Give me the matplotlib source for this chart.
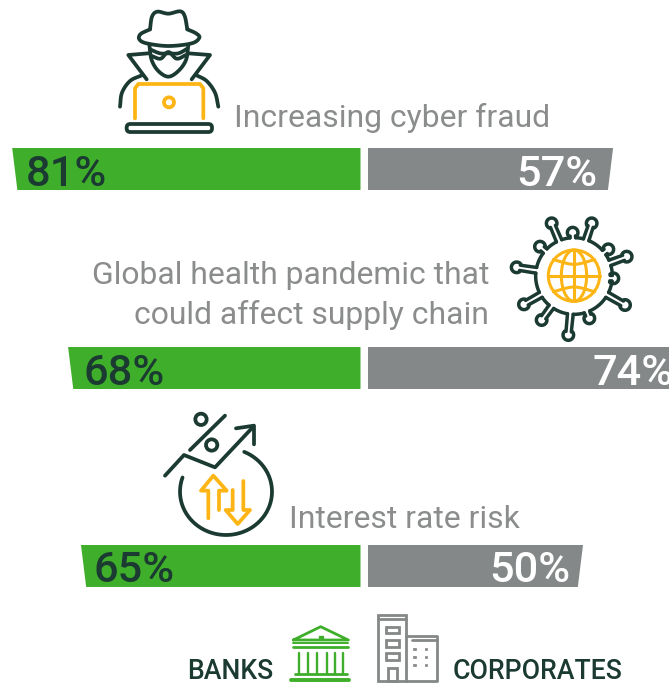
import matplotlib
matplotlib.use('Agg')
import matplotlib.pyplot as plt
from matplotlib.patches import Polygon, Circle, Rectangle, FancyBboxPatch
import numpy as np

risks = ['Increasing cyber fraud',
         'Global health pandemic that\ncould affect supply chain',
         'Interest rate risk']
banks = [81, 68, 65]
corporates = [57, 74, 50]
legend_labels = ['BANKS', 'CORPORATES']

GREEN = '#3fae2a'
GREY = '#858888'
DARK = '#1b3a32'
YELLOW = '#fdb515'
LABEL = '#8b8d8d'

plt.rcParams['font.family'] = ['Roboto', 'DejaVu Sans']

W, H = 669, 685
PX_PER_PCT = 4.3
SLANT = 1.2
bar_tops = [148, 347, 545]
bar_h = 42
# the value labels are not placed quite evenly in the original
bank_nudge = [0, 2, -0.5]
corp_nudge = [0, 3.5, 3.5]

fig = plt.figure(figsize=(W / 100, H / 100), dpi=100)
ax = fig.add_axes([0, 0, 1, 1])
ax.set_xlim(0, W)
ax.set_ylim(H, 0)
ax.axis('off')

# the two bar halves meet at a gap, each has its own percent scale
ax_b = fig.add_axes([0, 0, 360.5 / W, 1])
ax_b.set_xlim(360.5 / PX_PER_PCT, 0)
ax_c = fig.add_axes([368 / W, 0, (W - 368) / W, 1])
ax_c.set_xlim(0, (W - 368) / PX_PER_PCT)
for a in (ax_b, ax_c):
    a.set_ylim(H, 0)
    a.axis('off')
    a.patch.set_alpha(0)


def slanted_bar(a, val, top, color):
    pts = [(0, top), (val, top), (val - SLANT, top + bar_h), (0, top + bar_h)]
    a.add_patch(Polygon(pts, closed=True, fc=color, ec='none'))


for i in range(3):
    slanted_bar(ax_b, banks[i], bar_tops[i], GREEN)
    slanted_bar(ax_c, corporates[i], bar_tops[i], GREY)
    # value labels sit a fixed distance inside the slanted end
    ax_b.text(banks[i] - (13.5 + bank_nudge[i]) / PX_PER_PCT, bar_tops[i] + 37.5, '%d%%' % banks[i],
              fontsize=31.2, color=DARK, weight='medium', ha='left', va='baseline')
    ax_c.text(corporates[i] - (16 - corp_nudge[i]) / PX_PER_PCT, bar_tops[i] + 37.5, '%d%%' % corporates[i],
              fontsize=31.2, color='white', weight='medium', ha='right', va='baseline', clip_on=True)

ax.text(234, 127.3, risks[0], fontsize=22.96, color=LABEL, ha='left', va='baseline')
l1, l2 = risks[1].split('\n')
ax.text(489, 284.3, l1, fontsize=22.96, color=LABEL, ha='right', va='baseline')
ax.text(489, 324.3, l2, fontsize=22.96, color=LABEL, ha='right', va='baseline')
ax.text(289, 528.3, risks[2], fontsize=22.96, color=LABEL, ha='left', va='baseline')

ax.text(187, 679.3, legend_labels[0], fontsize=19.2, color=DARK, weight='medium', ha='left', va='baseline')
ax.text(452.5, 679.3, legend_labels[1], fontsize=19.2, color=DARK, weight='medium', ha='left', va='baseline')


def smooth(pts, n=12):
    # catmull-rom through the points, just to round the icon outlines
    p = np.array(pts, dtype=float)
    p = np.vstack([2 * p[0] - p[1], p, 2 * p[-1] - p[-2]])
    out = []
    for i in range(1, len(p) - 2):
        for t in np.linspace(0, 1, n, endpoint=False):
            out.append(0.5 * (2 * p[i] + (p[i + 1] - p[i - 1]) * t
                              + (2 * p[i - 1] - 5 * p[i] + 4 * p[i + 1] - p[i + 2]) * t ** 2
                              + (3 * p[i] - p[i - 1] - 3 * p[i + 1] + p[i + 2]) * t ** 3))
    out.append(p[-2])
    return np.array(out)


class Icon:
    def __init__(self, ox, oy):
        self.ox, self.oy = ox, oy

    def xy(self, pts):
        p = np.asarray(pts, dtype=float)
        return self.ox + p[:, 0] / 3, self.oy + p[:, 1] / 3

    def line(self, pts, color=DARK, lw=2.7, curve=False):
        if curve:
            pts = smooth(pts)
        x, y = self.xy(pts)
        ax.plot(x, y, color=color, lw=lw, solid_capstyle='round', solid_joinstyle='round')

    def circle(self, cx, cy, r, color=DARK, lw=2.7):
        ax.add_patch(Circle((self.ox + cx / 3, self.oy + cy / 3), r / 3, fc='none', ec=color, lw=lw))

    def rect(self, x0, y0, x1, y1, color=DARK, lw=2, fill=False):
        ax.add_patch(Rectangle((self.ox + x0 / 3, self.oy + y0 / 3), (x1 - x0) / 3, (y1 - y0) / 3,
                               fc=color if fill else 'none', ec=color, lw=lw))


# spy
spy = Icon(100, 0)
spy.line([(150, 88), (156, 50), (172, 35), (205, 41), (240, 34), (254, 48), (262, 88)], curve=True)
spy.line([(150, 88), (122, 102), (118, 118), (140, 130), (205, 138), (275, 130), (298, 113), (288, 100), (262, 88)], curve=True)
spy.line([(148, 135), (155, 180), (175, 213), (205, 230), (235, 213), (258, 180), (265, 135)], curve=True)
spy.line([(150, 148), (180, 160), (205, 160), (235, 160), (262, 146)], curve=True)
spy.line([(155, 168), (182, 176), (205, 156), (230, 176), (258, 165)], curve=True)
spy.line([(145, 160), (85, 165), (140, 238)])
spy.line([(265, 160), (330, 165), (275, 238)])
spy.line([(60, 320), (66, 278), (90, 243), (125, 226)], curve=True)
spy.line([(355, 320), (345, 278), (320, 243), (290, 226)], curve=True)
spy.line([(105, 355), (105, 265), (115, 252), (300, 252), (310, 265), (310, 355)], color=YELLOW)
spy.circle(207, 307, 15, color=YELLOW)
ax.add_patch(FancyBboxPatch((100 + 80 / 3, 372 / 3), 256 / 3, 24 / 3, boxstyle='round,pad=0,rounding_size=3.5',
                            fc='none', ec=DARK, lw=2.7))

# virus
vir = Icon(500, 210)
c = np.array([222.0, 198.0])
knobs = [(155, 40), (275, 40), (218, 68), (120, 110), (325, 118), (50, 172), (380, 140),
         (340, 205), (72, 283), (375, 285), (125, 330), (205, 375), (268, 325)]
R = 115
angs = sorted(np.arctan2(k[1] - c[1], k[0] - c[0]) for k in knobs)
half = 0.075
for i, a0 in enumerate(angs):
    a1 = angs[(i + 1) % len(angs)]
    if a1 < a0:
        a1 += 2 * np.pi
    t = np.linspace(a0 + half, a1 - half, 12)
    vir.line(np.c_[c[0] + R * np.cos(t), c[1] + R * np.sin(t)], lw=2.5)
for k in knobs:
    k = np.array(k, dtype=float)
    a = np.arctan2(k[1] - c[1], k[0] - c[0])
    u = np.array([np.cos(a), np.sin(a)])
    n = np.array([-u[1], u[0]])
    for s in (-1, 1):
        base = c + R * np.array([np.cos(a + s * half), np.sin(a + s * half)])
        vir.line([base, k - u * 10 + s * n * 8], lw=2.5)
    t = np.linspace(a - 2.3, a + 2.3, 14)
    vir.line(np.c_[k[0] + 16 * np.cos(t), k[1] + 16 * np.sin(t)], lw=2.5)

# globe
gc = (222, 197)
gr = 77
vir.circle(gc[0], gc[1], gr, color=YELLOW, lw=2.2)
vir.line([(gc[0], gc[1] - gr), (gc[0], gc[1] + gr)], color=YELLOW, lw=2.2)
vir.line([(gc[0] - gr, gc[1]), (gc[0] + gr, gc[1])], color=YELLOW, lw=2.2)
t = np.linspace(-np.pi / 2, np.pi / 2, 30)
for s in (-1, 1):
    vir.line(np.c_[gc[0] + s * 38 * np.cos(t), gc[1] + gr * np.sin(t)], color=YELLOW, lw=2.2)
    vir.line([(gc[0] - 62, gc[1] + s * 48), (gc[0], gc[1] + s * 34), (gc[0] + 62, gc[1] + s * 48)],
             color=YELLOW, lw=2.2, curve=True)

# rate arrow
rate = Icon(150, 405)
rate.line([(45, 212), (102, 150), (195, 187), (310, 65)])
rate.line([(258, 70), (312, 62), (312, 118)])
rate.line([(120, 135), (225, 32)])
rate.circle(153, 43, 17)
rate.circle(185, 120, 17)
t = np.linspace(np.arctan2(-132, 57), np.arctan2(-45, -130) + 2 * np.pi, 60)
rate.line(np.c_[228 + 138 * np.cos(t), 260 + 130 * np.sin(t)])
rate.line([(175, 340), (175, 257), (153, 257), (190, 212), (230, 257), (207, 257), (207, 315)], color=YELLOW)
rate.line([(248, 255), (248, 315), (227, 315), (263, 357), (300, 315), (280, 315), (280, 228)], color=YELLOW)

# legend icons
leg = Icon(180, 605)
leg.line([(340, 105), (422, 65), (505, 105), (340, 105)], color=GREEN, lw=2)
leg.rect(416, 93, 428, 99, color=GREEN, lw=1, fill=True)
leg.line([(340, 125), (505, 125)], color=GREEN, lw=2)
leg.line([(340, 113), (505, 113)], color=GREEN, lw=1.4)
for x in (358, 385, 412, 440, 465, 490):
    leg.line([(x, 145), (x, 205)], color=GREEN, lw=1.7)
leg.line([(345, 208), (500, 208)], color=GREEN, lw=2)
leg.line([(332, 225), (508, 225)], color=GREEN, lw=2.8)

leg.rect(595, 30, 678, 228, color=GREY, lw=2)
leg.line([(595, 43), (678, 43)], color=GREY, lw=2)
for y in (65, 105, 145):
    leg.rect(617, y, 657, y + 20, color=GREY, lw=2)
leg.rect(623, 190, 650, 228, color=GREY, lw=2)
leg.line([(678, 93), (770, 93), (770, 228), (678, 228)], color=GREY, lw=2)
leg.line([(695, 106), (770, 106)], color=GREY, lw=2)
for y in (133, 157, 180):
    for x in (703, 738):
        leg.rect(x - 4, y - 3, x + 4, y + 3, color=GREY, lw=0.5, fill=True)

fig.savefig('out.png', dpi=100)
